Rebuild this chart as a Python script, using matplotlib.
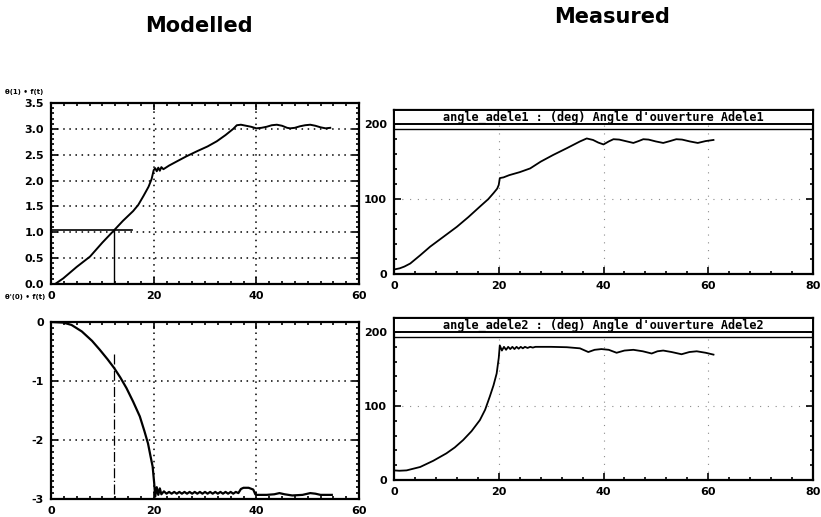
import numpy as np
import matplotlib
matplotlib.use("Agg")
from matplotlib import pyplot as plt
from matplotlib.ticker import MultipleLocator
import matplotlib.transforms as mtransforms

plt.rcParams['axes.unicode_minus'] = False

# ---- modelled: theta(1) = f(t)
mod1_t = [0.8, 2.4, 5, 7.6, 10, 12.3, 14, 16, 17, 18, 19, 19.6, 20.0, 20.3, 20.6, 20.9,
          21.2, 21.5, 21.9, 23, 24.5, 26.4, 28.5, 30.5, 32.3, 34, 35.5, 36.2, 37, 38, 39,
          40, 41, 42, 43, 44, 45, 46, 46.6, 47.5, 48.5, 49.5, 50.5, 51.5, 52.5, 53.5, 54.4]
mod1_v = [0.0, 0.11, 0.33, 0.53, 0.80, 1.04, 1.22, 1.41, 1.53, 1.70, 1.88, 2.03, 2.20, 2.24,
          2.18, 2.25, 2.19, 2.26, 2.22, 2.29, 2.37, 2.47, 2.57, 2.66, 2.76, 2.88, 3.00, 3.07,
          3.08, 3.06, 3.04, 3.01, 3.02, 3.04, 3.07, 3.08, 3.06, 3.02, 3.01, 3.02, 3.05, 3.07,
          3.08, 3.06, 3.03, 3.01, 3.02]
ref_t = 12.3
ref_v = 1.04
ref_end = 15.7

# ---- modelled: theta'(0) = f(t)
mod2_t = [0, 2.4, 4, 6, 8, 9.5, 11, 12.3, 13.5, 14.7, 16, 17.3, 18.2, 18.9, 19.4, 19.8,
          20.1, 20.3, 20.6, 20.9, 21.2, 21.5, 22, 22.5, 23, 23.5, 24, 24.5, 25, 25.5, 26,
          26.5, 27, 27.5, 28, 28.5, 29, 29.5, 30, 30.5, 31, 31.5, 32, 32.5, 33, 33.5, 34,
          34.5, 35, 35.5, 36, 36.5, 37, 37.5, 38.5, 39.4, 39.8, 40, 42, 43.5, 44.5, 45.5,
          47, 49, 50.5, 51.5, 52.5, 54.7]
mod2_v = [0.0, -0.01, -0.05, -0.16, -0.32, -0.47, -0.63, -0.78, -0.94, -1.12, -1.35, -1.60,
          -1.85, -2.06, -2.28, -2.45, -2.73, -2.96, -2.80, -2.93, -2.82, -2.92, -2.87, -2.91,
          -2.88, -2.91, -2.88, -2.91, -2.88, -2.91, -2.88, -2.91, -2.88, -2.91, -2.88, -2.91,
          -2.88, -2.91, -2.88, -2.91, -2.88, -2.91, -2.88, -2.91, -2.88, -2.91, -2.88, -2.91,
          -2.88, -2.91, -2.88, -2.90, -2.83, -2.81, -2.81, -2.84, -2.92, -2.93, -2.93, -2.92,
          -2.90, -2.92, -2.94, -2.93, -2.90, -2.91, -2.93, -2.93]
ref2_top = -0.55

# ---- measured: angle_adele1
ad1_t = [0, 1.1, 2, 3.1, 5, 6.9, 9.5, 12, 14.2, 16.4, 18, 19, 19.7, 20, 20.2, 20.5, 20.9,
         22, 24, 26, 28, 30.4, 33, 35.5, 36.8, 38, 39, 40, 41, 41.9, 43, 44.5, 45.7, 46.7,
         47.6, 48.6, 50, 51.4, 52.7, 53.9, 55, 56.5, 58, 59.5, 61]
ad1_v = [6, 7.6, 10, 14, 25, 36.5, 50, 63, 76, 90, 100, 108, 114, 119, 128, 128.5, 129,
         132, 136, 141, 150, 159, 168, 177, 181, 179, 175.5, 173, 177, 180, 179.5, 177, 175,
         177.5, 180, 179.5, 177, 175, 177.5, 180, 179.5, 177, 175, 177.5, 179]

# ---- measured: angle_adele2
ad2_t = [0, 1, 2.4, 5, 7.5, 10, 11.6, 13.2, 14.8, 16.4, 17.4, 18.3, 19, 19.6, 20, 20.2,
         20.6, 21.0, 21.4, 21.8, 22.2, 22.6, 23.0, 23.4, 23.8, 24.2, 24.6, 25, 25.5, 26,
         26.5, 27, 30, 33, 35.5, 37.1, 38.3, 39.6, 41, 42.5, 44, 45.7, 47.5, 49.2, 50.3,
         51.4, 53, 54.9, 56.4, 57.8, 59.5, 61]
ad2_v = [13, 12.5, 13, 17.6, 26, 36, 44, 54, 66, 81, 95, 113, 128, 144, 165, 182, 175,
         180, 176, 180, 177, 180, 177, 180, 177.5, 180, 178, 180, 178.5, 180, 179, 180, 180,
         179.5, 178, 173, 176, 177, 176, 172, 175, 176, 174, 171, 174, 175, 173, 170, 173,
         174, 172, 169.5]

title1 = "angle_adele1 : (deg) Angle d'ouverture Adele1"
title2 = "angle_adele2 : (deg) Angle d'ouverture Adele2"

W, H = 821, 517
fig = plt.figure(figsize=(W / 100, H / 100), dpi=100)


def box(l, r, t, b):
    return [l / W, (H - b) / H, (r - l) / W, (b - t) / H]


def style(ax, xminor, yminor, top=True):
    for s in ax.spines.values():
        s.set_linewidth(1.6)
    ax.xaxis.set_minor_locator(MultipleLocator(xminor))
    ax.yaxis.set_minor_locator(MultipleLocator(yminor))
    ax.tick_params(which='both', direction='in', top=top, right=True, width=1.2)
    ax.tick_params(which='major', length=5, pad=5)
    ax.tick_params(which='minor', length=2.5)
    for lab in ax.get_xticklabels() + ax.get_yticklabels():
        lab.set_fontsize(8)
        lab.set_fontweight('bold')


# top-left
ax1 = fig.add_axes(box(51, 359, 103, 284))
ax1.plot(mod1_t, mod1_v, color='black', lw=1.4)
ax1.plot([0, ref_end], [ref_v, ref_v], color='black', lw=1.2)
ax1.plot([ref_t, ref_t], [0, ref_v], color='black', lw=1.0)
ax1.set_xlim(0, 60)
ax1.set_ylim(0, 3.5)
ax1.set_xticks([0, 20, 40, 60])
ax1.set_yticks(np.arange(0, 3.51, 0.5))
ax1.set_yticklabels(['0.0', '0.5', '1.0', '1.5', '2.0', '2.5', '3.0', '3.5'])
ax1.grid(True, color='black', ls=(0, (1, 3)), lw=1.1)
style(ax1, 2.5, 0.1)
fig.text(5 / W, 1 - 92 / H, "θ(1) • f(t)", fontsize=5, fontweight='bold', va='center')

# bottom-left
ax2 = fig.add_axes(box(51, 359, 322, 499))
ax2.plot(mod2_t, mod2_v, color='black', lw=1.6)
ax2.plot([ref_t, ref_t], [ref2_top, -3], color='black', lw=0.9, ls=(0, (8, 2, 1, 2)))
ax2.set_xlim(0, 60)
ax2.set_ylim(-3, 0)
ax2.set_xticks([0, 20, 40, 60])
ax2.set_yticks([0, -1, -2, -3])
ax2.grid(True, color='black', ls=(0, (1, 3)), lw=1.1)
style(ax2, 2.5, 0.1)
fig.text(5 / W, 1 - 297 / H, "θ'(0) • f(t)", fontsize=5, fontweight='bold', va='center')


def measured(ax, t, v, title):
    ax.plot(t, v, color='black', lw=1.3)
    ax.set_xlim(0, 80)
    ax.set_ylim(0, 219)
    ax.set_xticks([0, 20, 40, 60, 80])
    ax.set_yticks([0, 100, 200])
    for x in [20, 40, 60]:
        ax.axvline(x, color='0.55', ls=(0, (1, 6)), lw=0.8, zorder=0)
    ax.axhline(100, color='0.55', ls=(0, (1, 6)), lw=0.8, zorder=0)
    ax.axhspan(200, 219, facecolor='white', edgecolor='black', lw=1.4, zorder=3)
    ax.axhline(193.5, color='black', lw=1.0, zorder=3)
    trans = mtransforms.blended_transform_factory(ax.transAxes, ax.transData)
    ax.text(0.5, 209.5, title, transform=trans, ha='center', va='center', zorder=4,
            fontsize=8.6, fontweight='bold', family='DejaVu Sans Mono')
    style(ax, 4, 20, top=False)


ax3 = fig.add_axes(box(394, 813, 110, 274))
measured(ax3, ad1_t, ad1_v, title1)
ax4 = fig.add_axes(box(394, 813, 318, 480))
measured(ax4, ad2_t, ad2_v, title2)

fig.text(199 / W, 1 - 26 / H, "Modelled", fontsize=15, fontweight='bold',
         ha='center', va='center')
fig.text(612 / W, 1 - 17 / H, "Measured", fontsize=15, fontweight='bold',
         ha='center', va='center')

plt.savefig("out.png", dpi=100)
